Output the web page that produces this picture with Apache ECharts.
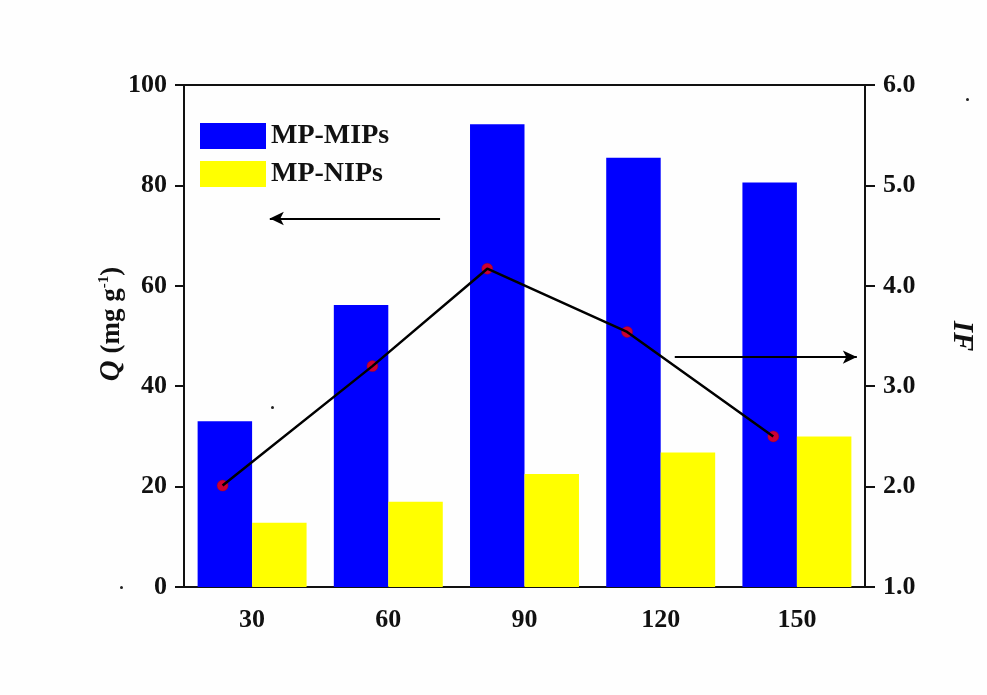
<!DOCTYPE html>
<html lang="en">

<head>
  <meta charset="UTF-8">
  <script src="https://cdn.jsdelivr.net/npm/echarts@6/dist/echarts.min.js"></script>
  <style>
    html, body { margin: 0; padding: 0; background: #fefefe; }
    #chart { width: 987px; height: 695px; }
  </style>
</head>

<body>
  <div id="chart"></div>
  <script>
    // data
    const times = ['30', '60', '90', '120', '150'];
    const mipsQ = [33, 56.2, 92.2, 85.5, 80.6];
    const nipsQ = [12.8, 17, 22.5, 26.8, 30];
    // IF points sit a little left of each category centre (hidden value x axis, 15..165)
    const ifX = [23.5, 56.5, 81.8, 112.6, 144.8];
    const ifY = [2.01, 3.20, 4.17, 3.54, 2.50];
    const ifData = ifX.map((x, i) => [x, ifY[i]]);

    const font = 'Liberation Serif, Times New Roman, serif';
    const labelStyle = { color: '#111', fontFamily: font, fontWeight: 'bold', fontSize: 26 };

    var chart = echarts.init(document.getElementById('chart'));
    let option = {
      backgroundColor: '#fefefe',
      animation: false,
      grid: { left: 184, right: 122, top: 85, bottom: 108 },
      legend: {
        data: ['MP-MIPs', 'MP-NIPs'],
        orient: 'vertical',
        left: 195,
        top: 117,
        icon: 'rect',
        itemWidth: 66,
        itemHeight: 26,
        itemGap: 10,
        textStyle: { color: '#111', fontFamily: font, fontWeight: 'bold', fontSize: 28 }
      },
      xAxis: [
        {
          type: 'category',
          data: times,
          axisLine: { lineStyle: { color: '#111', width: 2 } },
          axisTick: { show: false },
          axisLabel: Object.assign({ margin: 20 }, labelStyle)
        },
        {
          // hidden axis for the IF line, also draws the top border
          type: 'value',
          position: 'top',
          min: 15,
          max: 165,
          axisLine: { show: true, onZero: false, lineStyle: { color: '#111', width: 2 } },
          axisTick: { show: false },
          axisLabel: { show: false },
          splitLine: { show: false }
        }
      ],
      yAxis: [
        {
          type: 'value',
          min: 0,
          max: 100,
          interval: 20,
          name: '{q|Q} (mg g{sup|-1})',
          nameLocation: 'middle',
          nameGap: 57,
          nameMoveOverlap: false,
          nameRotate: 90,
          nameTextStyle: {
            color: '#111', fontFamily: font, fontWeight: 'bold', fontSize: 27,
            padding: [0, 0, 0, 24],
            rich: {
              q: { fontFamily: font, fontWeight: 'bold', fontStyle: 'italic', fontSize: 29, color: '#111' },
              sup: { fontFamily: font, fontWeight: 'bold', fontSize: 15, color: '#111', verticalAlign: 'top', lineHeight: 30 }
            }
          },
          axisLine: { show: true, lineStyle: { color: '#111', width: 2 } },
          axisTick: { show: true, length: 9, lineStyle: { width: 2 } },
          axisLabel: Object.assign({ margin: 17 }, labelStyle),
          splitLine: { show: false }
        },
        {
          type: 'value',
          min: 1,
          max: 6,
          interval: 1,
          name: 'IF',
          nameLocation: 'middle',
          nameGap: 82,
          nameRotate: -90,
          nameTextStyle: { color: '#111', fontFamily: font, fontWeight: 'bold', fontStyle: 'italic', fontSize: 29 },
          axisLine: { show: true, lineStyle: { color: '#111', width: 2 } },
          axisTick: { show: true, length: 10, lineStyle: { width: 2 } },
          axisLabel: Object.assign({ margin: 18, formatter: v => v.toFixed(1) }, labelStyle),
          splitLine: { show: false }
        }
      ],
      series: [
        {
          name: 'MP-MIPs',
          type: 'bar',
          data: mipsQ,
          barWidth: '40%',
          barGap: '0%',
          itemStyle: { color: '#0000ff' }
        },
        {
          name: 'MP-NIPs',
          type: 'bar',
          data: nipsQ,
          barWidth: '40%',
          itemStyle: { color: '#ffff00' }
        },
        {
          name: 'IF points',
          type: 'scatter',
          xAxisIndex: 1,
          yAxisIndex: 1,
          data: ifData,
          symbolSize: 11,
          itemStyle: { color: '#ff0000', borderColor: '#aa0000', borderWidth: 0.5 },
          z: 3
        },
        {
          name: 'IF',
          type: 'line',
          xAxisIndex: 1,
          yAxisIndex: 1,
          data: ifData,
          showSymbol: false,
          lineStyle: { color: '#000', width: 2.5 },
          z: 4,
          // the two arrows pointing at each axis
          markLine: {
            silent: true,
            symbol: ['none', 'arrow'],
            symbolSize: [10, 14],
            label: { show: false },
            lineStyle: { color: '#000', width: 2.2, type: 'solid' },
            data: [
              [{ coord: [71.4, 4.67] }, { coord: [33.9, 4.67] }],
              [{ coord: [123.1, 3.29] }, { coord: [163.2, 3.29] }]
            ]
          }
        }
      ],
      graphic: [
        // stray specks in the original figure
        { type: 'circle', left: 966, top: 98, shape: { r: 1.5 }, style: { fill: '#222' } },
        { type: 'circle', left: 271, top: 406, shape: { r: 1.5 }, style: { fill: '#222' } },
        { type: 'circle', left: 120, top: 586, shape: { r: 1.5 }, style: { fill: '#222' } }
      ]
    };
    chart.setOption(option);
  </script>
</body>

</html>
